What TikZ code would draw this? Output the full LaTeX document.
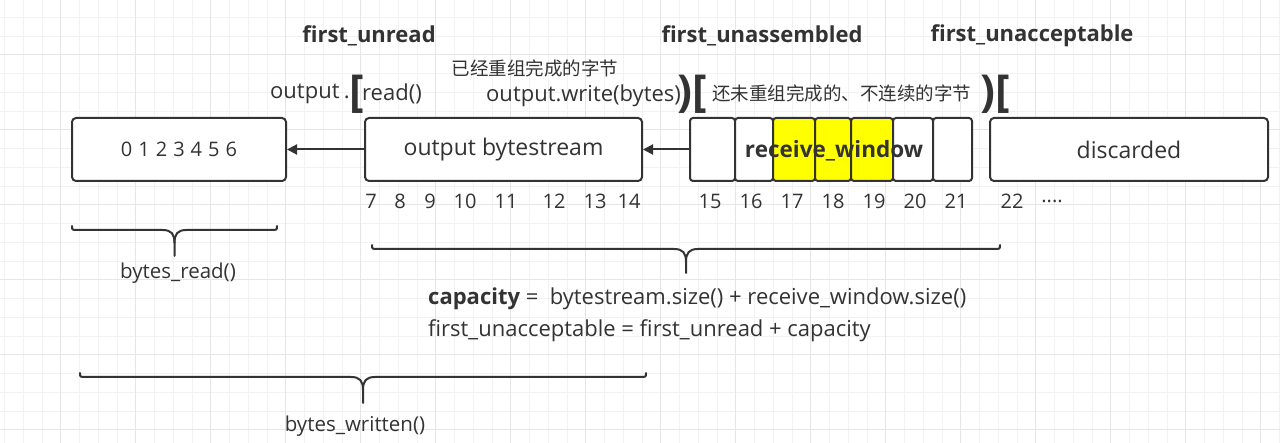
\documentclass[tikz,border=0pt]{standalone}
\usepackage{fontspec}
\setmainfont{Open Sans}
\newfontfamily\cjk{Noto Sans CJK SC}
\usetikzlibrary{arrows.meta}
\definecolor{ink}{HTML}{333333}
\definecolor{gminor}{HTML}{F2F2F2}
\definecolor{gmajor}{HTML}{E6E6E6}
\definecolor{hl}{HTML}{FFFF00}
\tikzset{
  box/.style={draw=ink, line width=2pt, rounded corners=4pt, fill=white, minimum height=63pt, inner sep=0pt, text=ink},
  cellbox/.style={box, rounded corners=3pt},
  arr/.style={draw=ink, line width=2pt, -{Triangle[length=10pt,width=10pt]}},
  lbl/.style={text=ink, inner sep=0pt},
  bold/.style={lbl, font=\fontsize{22}{26}\selectfont\bfseries},
  txt/.style={lbl, font=\fontsize{22}{26}\selectfont},
  num/.style={lbl, font=\fontsize{20}{24}\selectfont},
  cn/.style={lbl, font=\fontsize{18.5}{22}\selectfont\cjk},
  brk/.style={lbl, font=\fontsize{44}{48}\selectfont\bfseries},
  bracestroke/.style={draw=ink, line width=2pt, line cap=round},
  minorline/.style={draw=gminor, line width=1pt},
  majorline/.style={draw=gmajor, line width=1pt},
}
\newcommand{\hbracket}[4]{% x1 x2 y ytip
  \pgfmathsetmacro{\xm}{(#1+#2)/2}
  \draw[bracestroke] (#1,#3-4) .. controls (#1,#3) .. (#1+6,#3) -- (\xm-12,#3) .. controls (\xm-3,#3) and (\xm,#3+4) .. (\xm,#3+13) -- (\xm,#4);
  \draw[bracestroke] (#2,#3-4) .. controls (#2,#3) .. (#2-6,#3) -- (\xm+12,#3) .. controls (\xm+3,#3) and (\xm,#3+4) .. (\xm,#3+13);
}
\begin{document}
\begin{tikzpicture}[x=1pt,y=-1pt]
\useasboundingbox (0,0) rectangle (1280,443);
\fill[white] (0,0) rectangle (1280,443);
% grid
\foreach \k in {0,...,68} \draw[minorline] ({4.5+\k*18.75},0) -- ++(0,443);
\foreach \k in {1,...,23} \draw[minorline] (0,{-1.25+\k*18.75}) -- ++(1280,0);
\foreach \k in {0,...,16} \draw[majorline] ({60.75+\k*75},0) -- ++(0,443);
\foreach \k in {0,...,5} \draw[majorline] (0,{55+\k*75}) -- ++(1280,0);

% boxes
\node[box, minimum width=214pt, font=\fontsize{20}{24}\selectfont] (A) at (179,149.5) {0\hspace{0.3em}1\hspace{0.3em}2\hspace{0.3em}3\hspace{0.3em}4\hspace{0.3em}5\hspace{0.3em}6};
\node[box, minimum width=277pt, font=\fontsize{23}{27}\selectfont] (B) at (503.5,149.5) {output bytestream};
\node[cellbox, minimum width=45pt] (c1) at (712.5,149.5) {};
\node[cellbox, minimum width=38pt] (c2) at (754,149.5) {};
\node[cellbox, minimum width=42pt, fill=hl] (c3) at (794,149.5) {};
\node[cellbox, minimum width=36pt, fill=hl] (c4) at (833,149.5) {};
\node[cellbox, minimum width=42pt, fill=hl] (c5) at (872,149.5) {};
\node[cellbox, minimum width=40pt] (c6) at (913,149.5) {};
\node[cellbox, minimum width=39pt] (c7) at (952.5,149.5) {};
\node[lbl, font=\fontsize{22.5}{26}\selectfont\bfseries] (rw) at (834,151) {receive\_window};
\node[box, minimum width=278pt, font=\fontsize{23}{27}\selectfont] (D) at (1129,149.5) {discarded};

% arrows
\draw[arr] (B.west) -- (A.east);
\draw[arr] (c1.west) -- (B.east);

% top labels
\node[bold] (fu) at (369,36) {first\_unread};
\node[bold] (fa) at (762,36) {first\_unassembled};
\node[bold] (fx) at (1032,36) {first\_unacceptable};

\node[txt, anchor=west] (outp) at (270,94) {output\hspace{0.2em}.};
\node[brk] (b1) at (357,94) {[};
\node[txt, anchor=west] (rd) at (362,94) {read()};
\node[cn] (cn1) at (535,68) {已经重组完成的字节};
\node[txt, anchor=west] (wr) at (486,96) {output.write(bytes)};
\node[brk] (b2) at (692,94) {)[};
\node[cn, anchor=west] (cn2) at (712,93) {还未重组完成的、不连续的字节};
\node[brk] (b3) at (995,94) {)[};

% numbers
\foreach \n/\x in {7/371,8/400,9/430,10/465,11/506,12/554,13/595,14/629,15/710,16/751,17/792,18/833,19/874,20/915,21/956,22/1012}
  \node[num] (n\n) at (\x,201) {\n};
\node[num] (ndots) at (1052,201) {....};

% braces
\hbracket{72}{277}{230}{256}
\node[txt, font=\fontsize{20.5}{24}\selectfont] (br) at (178,273) {bytes\_read()};
\hbracket{372}{1000}{249}{273}
\node[txt, anchor=west] (cap) at (428,299) {\textbf{capacity} =\ \ bytestream.size() + receive\_window.size()};
\node[txt, anchor=west] (fua) at (428,331) {first\_unacceptable = first\_unread + capacity};
\hbracket{80}{646}{377}{403}
\node[txt, font=\fontsize{20.5}{24}\selectfont] (bw) at (355,426) {bytes\_written()};
\end{tikzpicture}
\end{document}
